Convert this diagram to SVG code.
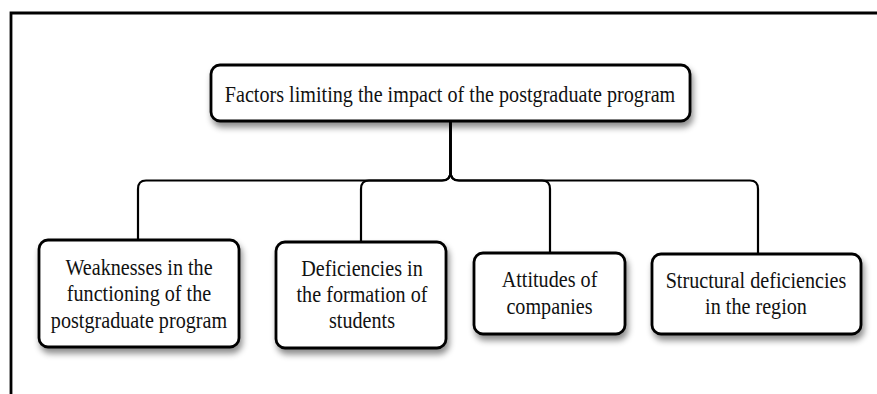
<svg xmlns="http://www.w3.org/2000/svg" width="877" height="394" viewBox="0 0 877 394">
<defs>
<filter id="sh" x="-10%" y="-20%" width="125%" height="150%">
<feDropShadow dx="2" dy="5" stdDeviation="3" flood-color="#000" flood-opacity="0.45"/>
</filter>
</defs>
<style>
.box{fill:#fff;stroke:#000;stroke-width:2.8;filter:url(#sh)}
.lbl{font-family:"Liberation Serif","Times New Roman",serif;font-size:24px;fill:#111;text-anchor:middle}
.conn{fill:none;stroke:#000;stroke-width:2.2}
.frame{fill:none;stroke:#000;stroke-width:2.8}
</style>
<rect width="877" height="394" fill="#fff"/>
<path class="frame" d="M11,394 V13 H877"/>
<g id="connectors">
<path class="conn" d="M450.5,121 V172 Q450.5,180.5 442,180.5 H146 Q138,180.5 138,189 V240"/>
<path class="conn" d="M450.5,121 V172 Q450.5,180.5 442,180.5 H369 Q361,180.5 361,189 V242"/>
<path class="conn" d="M450.5,121 V172 Q450.5,180.5 459,180.5 H542 Q550,180.5 550,189 V253"/>
<path class="conn" d="M450.5,121 V172 Q450.5,180.5 459,180.5 H750 Q758,180.5 758,189 V254"/>
</g>
<g id="root">
<rect class="box" x="211" y="65" width="479" height="56" rx="9"/>
<g transform="translate(450,0) scale(0.84,1)">
<text class="lbl" x="0" y="102">Factors limiting the impact of the postgraduate program</text>
</g>
</g>
<g id="n1">
<rect class="box" x="39" y="240" width="200" height="107" rx="9"/>
<g transform="translate(139,0) scale(0.84,1)">
<text class="lbl" x="0" y="275">Weaknesses in the</text>
<text class="lbl" x="0" y="301.5">functioning of the</text>
<text class="lbl" x="0" y="328">postgraduate program</text>
</g>
</g>
<g id="n2">
<rect class="box" x="276" y="242" width="170" height="106" rx="9"/>
<g transform="translate(362,0) scale(0.84,1)">
<text class="lbl" x="0" y="276.5">Deficiencies in</text>
<text class="lbl" x="0" y="302.5">the formation of</text>
<text class="lbl" x="0" y="328.5">students</text>
</g>
</g>
<g id="n3">
<rect class="box" x="474" y="253" width="151" height="81" rx="9"/>
<g transform="translate(549.5,0) scale(0.84,1)">
<text class="lbl" x="0" y="287.5">Attitudes of</text>
<text class="lbl" x="0" y="314">companies</text>
</g>
</g>
<g id="n4">
<rect class="box" x="652" y="254" width="209" height="80" rx="9"/>
<g transform="translate(756,0) scale(0.84,1)">
<text class="lbl" x="0" y="288">Structural deficiencies</text>
<text class="lbl" x="0" y="314.5">in the region</text>
</g>
</g>
</svg>
